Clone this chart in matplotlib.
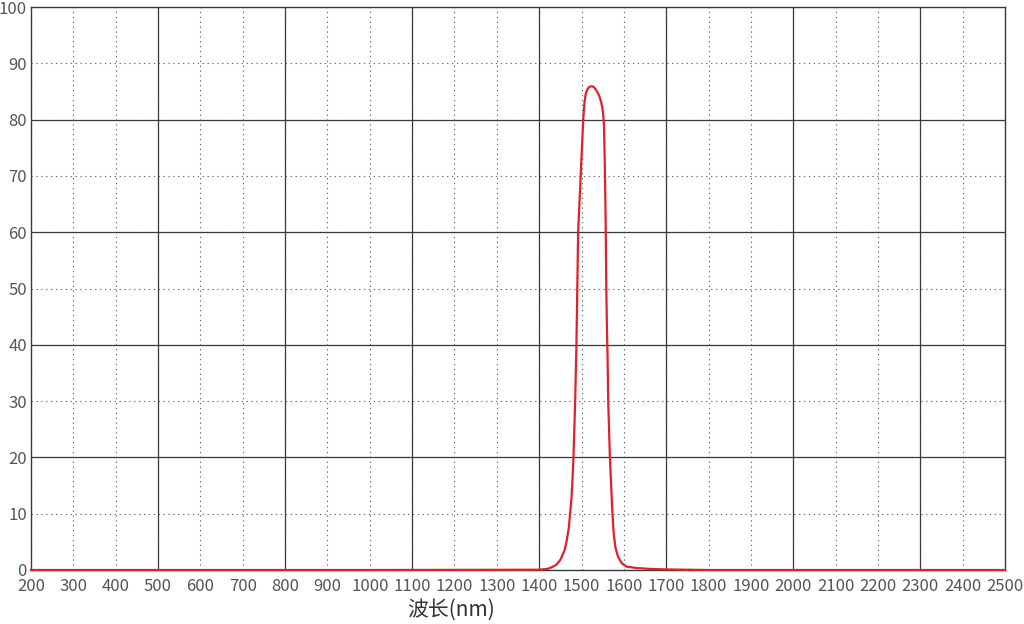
import matplotlib
matplotlib.use('Agg')
import matplotlib.pyplot as plt
from matplotlib.ticker import FixedLocator

plt.rcParams['font.family'] = ['Noto Sans CJK SC', 'DejaVu Sans']

# transmission curve (wavelength nm, %)
wavelength = [200, 600, 1000, 1400, 1420, 1430, 1440, 1450, 1460, 1465, 1470,
              1473, 1476, 1478, 1481, 1485, 1488, 1490, 1492, 1495, 1498,
              1501, 1504, 1507, 1510, 1514, 1518, 1522, 1526, 1530, 1534,
              1538, 1542, 1546, 1549, 1551, 1553, 1555, 1557, 1558.5, 1560,
              1561.5, 1563, 1565, 1567, 1570, 1573, 1576, 1580, 1586, 1595,
              1606, 1630, 1660, 1700, 1750, 1800, 2200, 2500]
transmission = [0, 0, 0, 0.05, 0.2, 0.5, 0.9, 1.8, 3.5, 5.2, 7.5,
                10, 12.5, 15, 20, 30, 40, 50, 60, 65, 70,
                75, 80, 83, 84.6, 85.4, 85.8, 85.9, 85.9, 85.7, 85.3,
                84.8, 84.2, 83.2, 82.2, 81, 79, 72, 62, 50, 43,
                38, 30, 25, 20, 15, 10, 6.5, 4, 2.4, 1.2,
                0.6, 0.35, 0.2, 0.1, 0.05, 0, 0, 0]

x_ticks = list(range(200, 2501, 100))
x_solid = [500, 800, 1100, 1400, 1700, 2000, 2300]
y_ticks = list(range(0, 101, 10))
y_solid = [20, 40, 60, 80]

fig = plt.figure(figsize=(10.24, 6.24), dpi=100)
ax = fig.add_axes([31 / 1024, 1 - 570 / 624, 974 / 1024, 563 / 624])

ax.plot(wavelength, transmission, color='#e0202a', lw=1.6, clip_on=False, zorder=5)

ax.set_xlim(200, 2500)
ax.set_ylim(0, 100)

ax.set_xticks(x_ticks)
ax.set_yticks(y_ticks)
ax.xaxis.remove_overlapping_locs = False
ax.yaxis.remove_overlapping_locs = False
ax.xaxis.set_minor_locator(FixedLocator(x_solid))
ax.yaxis.set_minor_locator(FixedLocator(y_solid))

ax.grid(which='major', color='#666666', lw=0.8, linestyle=(0, (1.2, 3.2)))
ax.grid(which='minor', color='#3a3a3a', lw=0.9, linestyle='-')
ax.set_axisbelow(True)

ax.tick_params(which='both', length=0, labelsize=12, labelcolor='#555555')
ax.tick_params(axis='x', pad=6)
ax.tick_params(axis='y', pad=3)

for s in ax.spines.values():
    s.set_color('#3a3a3a')
    s.set_linewidth(1.0)

ax.set_xlabel('波长(nm)', fontsize=15, color='#333333')
ax.xaxis.set_label_coords(0.431, -0.071)
ax.xaxis.label.set_va('center')

fig.savefig('out.png', dpi=100)
